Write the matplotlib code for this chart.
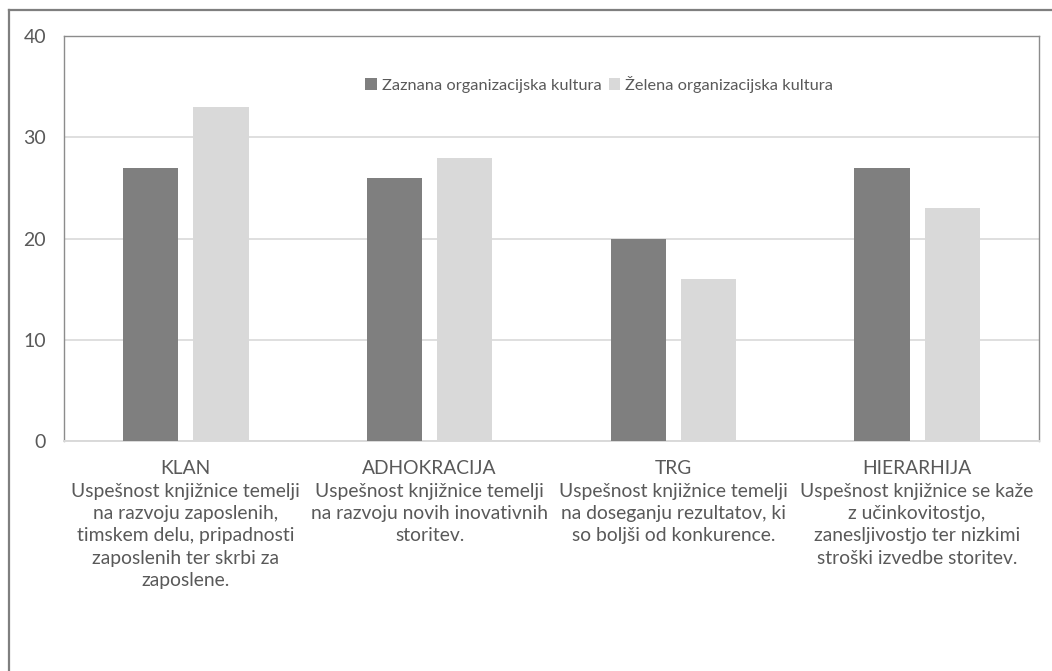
import matplotlib
matplotlib.use("Agg")
import matplotlib.pyplot as plt
from matplotlib.lines import Line2D
import numpy as np

plt.rcParams['font.family'] = ['Lato', 'DejaVu Sans']

categories = ["KLAN", "ADHOKRACIJA", "TRG", "HIERARHIJA"]
descriptions = [
    "Uspešnost knjižnice temelji\nna razvoju zaposlenih,\ntimskem delu, pripadnosti\nzaposlenih ter skrbi za\nzaposlene.",
    "Uspešnost knjižnice temelji\nna razvoju novih inovativnih\nstoritev.",
    "Uspešnost knjižnice temelji\nna doseganju rezultatov, ki\nso boljši od konkurence.",
    "Uspešnost knjižnice se kaže\nz učinkovitostjo,\nzanesljivostjo ter nizkimi\nstroški izvedbe storitev.",
]
series_names = ["Zaznana organizacijska kultura", "Želena organizacijska kultura"]
zaznana = [27, 26, 20, 27]
zelena = [33, 28, 16, 23]
y_ticks = [0, 10, 20, 30, 40]

TEXT = "#595959"
DARK = "#7f7f7f"
LIGHT = "#d9d9d9"

W, H = 1052, 671
fig = plt.figure(figsize=(W / 100, H / 100), dpi=100)
fig.patch.set_facecolor("white")

# outer chart border (top and left edges visible)
fig.add_artist(Line2D([9 / W, 1.0], [1 - 10 / H, 1 - 10 / H], transform=fig.transFigure,
                      color="#7f7f7f", lw=1.6))
fig.add_artist(Line2D([9 / W, 9 / W], [0.0, 1 - 10 / H], transform=fig.transFigure,
                      color="#7f7f7f", lw=1.6))

ax = fig.add_axes([64 / W, 1 - 441 / H, (1039 - 64) / W, (441 - 36) / H])

x = np.arange(len(categories))
bw = 0.226
off = 0.144
ax.bar(x - off, zaznana, width=bw, color=DARK, label=series_names[0], zorder=3)
ax.bar(x + off, zelena, width=bw, color=LIGHT, label=series_names[1], zorder=3)

ax.set_xlim(-0.5, len(categories) - 0.5)
ax.set_ylim(0, 40)
ax.set_yticks(y_ticks)
ax.set_yticklabels([str(v) for v in y_ticks], fontsize=14, color=TEXT)
ax.yaxis.grid(True, color=LIGHT, lw=1.2, zorder=0)
ax.set_axisbelow(True)

ax.set_xticks(x)
ax.set_xticklabels([f"{c}\n{d}" for c, d in zip(categories, descriptions)],
                   fontsize=13.9, color=TEXT, linespacing=1.38, va="top")
ax.tick_params(axis="both", length=0)
ax.tick_params(axis="x", pad=14)
ax.tick_params(axis="y", pad=13)

for side in ["top", "left", "right"]:
    ax.spines[side].set_color("#8c8c8c")
    ax.spines[side].set_linewidth(1.0)
ax.spines["bottom"].set_color(LIGHT)
ax.spines["bottom"].set_linewidth(1.4)

leg = ax.legend(loc="center", bbox_to_anchor=(0.549, 0.881), ncol=2, frameon=False,
                fontsize=11.8, handlelength=0.7, handleheight=0.7, handletextpad=0.3,
                columnspacing=0.45, labelcolor=TEXT)

fig.savefig("out.png", dpi=100, facecolor="white")
